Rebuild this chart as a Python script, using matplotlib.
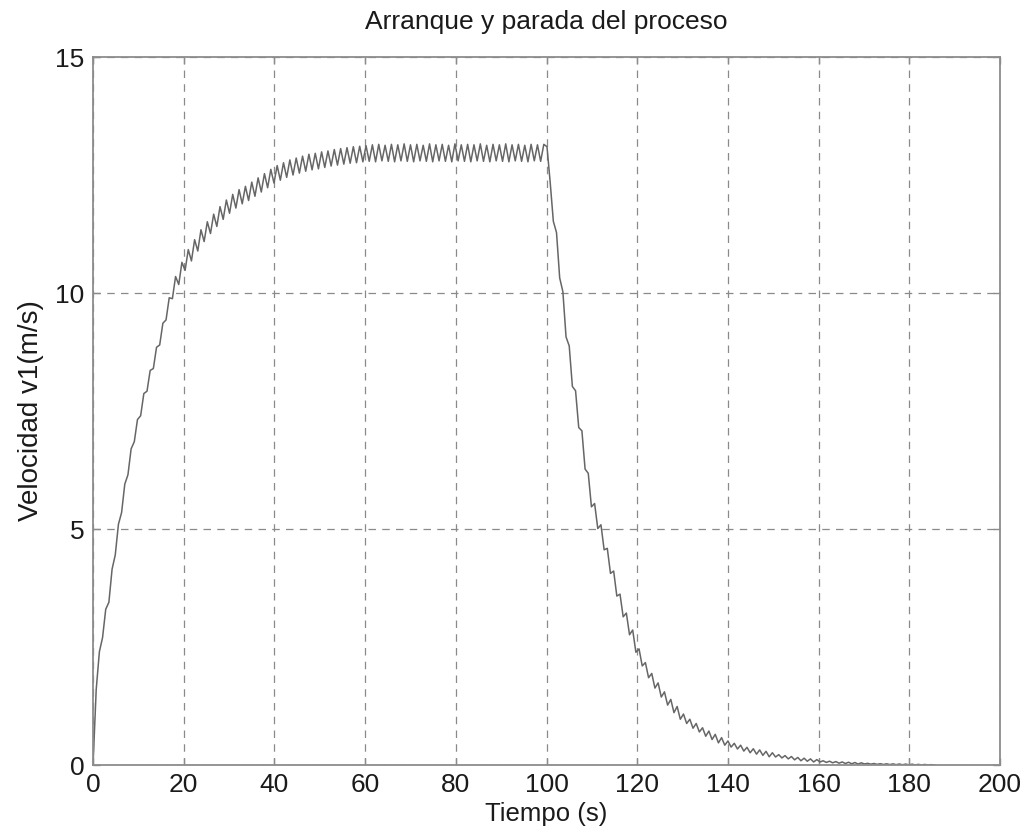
import matplotlib
matplotlib.use("Agg")
import matplotlib.pyplot as plt

time_step = 0.7

# start-up, 0 .. 60.2 s
v_start = [0.0, 1.6, 2.4, 2.7, 3.3, 3.45, 4.15, 4.45, 5.1, 5.35,
           5.95, 6.15, 6.7, 6.85, 7.32, 7.4, 7.87, 7.92, 8.36, 8.4,
           8.85, 8.9, 9.36, 9.43, 9.9, 9.88, 10.35, 10.18, 10.65, 10.48,
           10.92, 10.68, 11.13, 10.89, 11.34, 11.09, 11.51, 11.26, 11.67, 11.41,
           11.83, 11.56, 11.97, 11.69, 12.09, 11.8, 12.19, 11.89, 12.26, 11.96,
           12.35, 12.05, 12.44, 12.14, 12.53, 12.23, 12.62, 12.33, 12.7, 12.39,
           12.76, 12.45, 12.82, 12.5, 12.86, 12.54, 12.9, 12.58, 12.94, 12.61,
           12.96, 12.63, 12.99, 12.66, 13.01, 12.69, 13.04, 12.71, 13.06, 12.73,
           13.08, 12.75, 13.1, 12.76, 13.11, 12.78, 13.12]

# steady running, 60.9 .. 99.4 s
v_hold = [12.79, 13.14, 12.78, 13.15, 12.8, 13.13, 12.79, 13.15, 12.78, 13.14,
          12.8, 13.16, 12.79, 13.14, 12.78, 13.15, 12.8, 13.13, 12.79, 13.16,
          12.78, 13.14, 12.8, 13.15, 12.79, 13.13, 12.78, 13.16, 12.8, 13.14,
          12.79, 13.15, 12.78, 13.14, 12.8, 13.16, 12.79, 13.13, 12.78, 13.15,
          12.8, 13.14, 12.79, 13.16, 12.78, 13.14, 12.8, 13.15, 12.79, 13.13,
          12.78, 13.15, 12.8, 13.14, 12.79, 13.15]

# stop, 100.1 .. 185.5 s
v_stop = [13.1, 12.35, 11.52, 11.28, 10.32, 10.03, 9.07, 8.88, 8.02, 7.93,
          7.15, 7.08, 6.27, 6.18, 5.47, 5.54, 5.01, 5.09, 4.56, 4.59,
          4.06, 4.11, 3.58, 3.62, 3.14, 3.22, 2.76, 2.86, 2.39, 2.46,
          2.1, 2.17, 1.85, 1.94, 1.63, 1.74, 1.44, 1.55, 1.27, 1.39,
          1.11, 1.24, 0.97, 1.08, 0.88, 0.97, 0.78, 0.88, 0.7, 0.79,
          0.61, 0.72, 0.54, 0.65, 0.47, 0.58, 0.42, 0.51, 0.38, 0.46,
          0.34, 0.42, 0.295, 0.375, 0.26, 0.345, 0.23, 0.32, 0.205, 0.29,
          0.175, 0.26, 0.17, 0.22, 0.15, 0.2, 0.13, 0.18, 0.11, 0.16,
          0.09, 0.145, 0.08, 0.13, 0.065, 0.115, 0.065, 0.09, 0.055, 0.081,
          0.047, 0.073, 0.039, 0.065, 0.032, 0.059, 0.026, 0.053, 0.02, 0.047,
          0.022, 0.036, 0.018, 0.032, 0.014, 0.028, 0.011, 0.026, 0.009, 0.024,
          0.007, 0.022, 0.005, 0.02, 0.003, 0.018, 0.002, 0.014, 0.001, 0.012,
          0.0, 0.008, 0.0]

x_ticks = [0, 20, 40, 60, 80, 100, 120, 140, 160, 180, 200]
y_ticks = [0, 5, 10, 15]

title = "Arranque y parada del proceso"
xlabel = "Tiempo (s)"
ylabel = "Velocidad v1(m/s)"

# ---- figure ----
plt.rcParams['font.family'] = ['Liberation Sans', 'DejaVu Sans']
fig = plt.figure(figsize=(10.28, 8.36), dpi=100)
ax = fig.add_axes([0.0905, 0.0849, 0.8823, 0.8469])

v = v_start + v_hold + v_stop
t = [round(i * time_step, 1) for i in range(len(v))]
ax.plot(t, v, color='#666666', lw=1.1)

ax.set_xlim(0, 200)
ax.set_ylim(0, 15)
ax.set_xticks(x_ticks)
ax.set_yticks(y_ticks)
ax.grid(True, linestyle=(0, (6, 5)), color='#8a8a8a', lw=0.9)

for s in ax.spines.values():
    s.set_color('#8c8c8c')
    s.set_linewidth(1.3)

ax.tick_params(direction='in', length=5, width=1, color='#8c8c8c',
               labelsize=19, labelcolor='#1a1a1a', top=True, right=True, pad=6)

ax.set_title(title, fontsize=19, color='#1a1a1a', pad=20)
ax.set_xlabel(xlabel, fontsize=18.5, color='#1a1a1a', labelpad=3)
ax.set_ylabel(ylabel, fontsize=20, color='#1a1a1a', labelpad=8)

fig.savefig("out.png", dpi=100, facecolor='white')
